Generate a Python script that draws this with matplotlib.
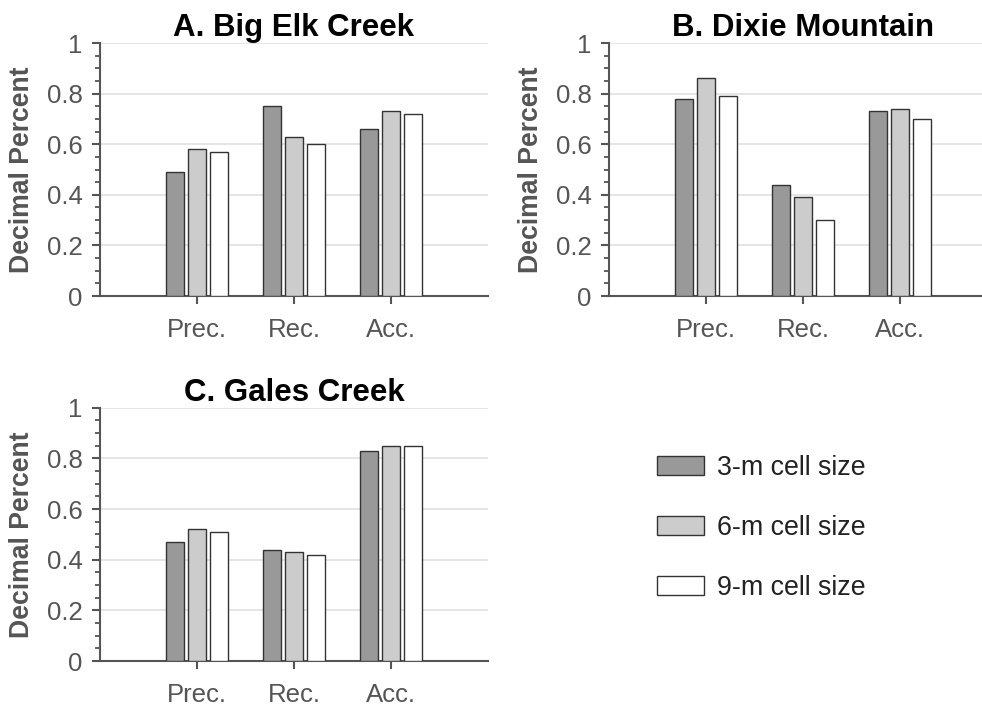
import matplotlib
matplotlib.use("Agg")
import matplotlib.pyplot as plt
import numpy as np
from matplotlib.patches import Patch
from matplotlib.ticker import MultipleLocator

plt.rcParams["font.family"] = ["Liberation Sans", "DejaVu Sans"]

metrics = ["Prec.", "Rec.", "Acc."]
series_labels = ["3-m cell size", "6-m cell size", "9-m cell size"]
series_colors = ["#999999", "#cccccc", "#ffffff"]

big_elk = {
    "3-m cell size": [0.49, 0.75, 0.66],
    "6-m cell size": [0.58, 0.63, 0.73],
    "9-m cell size": [0.57, 0.60, 0.72],
}
dixie = {
    "3-m cell size": [0.78, 0.44, 0.73],
    "6-m cell size": [0.86, 0.39, 0.74],
    "9-m cell size": [0.79, 0.30, 0.70],
}
gales = {
    "3-m cell size": [0.47, 0.44, 0.83],
    "6-m cell size": [0.52, 0.43, 0.85],
    "9-m cell size": [0.51, 0.42, 0.85],
}

AXIS_GREY = "#555555"
EDGE = "#333333"


def draw_panel(ax, data, title):
    x = np.arange(1, len(metrics) + 1)
    step = 0.225
    width = 0.18
    for i, (label, color) in enumerate(zip(series_labels, series_colors)):
        ax.bar(x + (i - 1) * step, data[label], width=width, color=color,
               edgecolor=EDGE, linewidth=1.0, zorder=3)

    ax.set_xlim(0, 4)
    ax.set_ylim(0, 1)
    ax.set_xticks(x)
    ax.set_xticklabels(metrics)
    ax.set_yticks([0, 0.2, 0.4, 0.6, 0.8, 1.0])
    ax.set_yticklabels(["0", "0.2", "0.4", "0.6", "0.8", "1"])
    ax.yaxis.set_minor_locator(MultipleLocator(0.05))

    ax.grid(axis="y", color="#e3e3e3", linewidth=1.3, zorder=0)
    ax.set_axisbelow(True)
    for side in ("top", "right"):
        ax.spines[side].set_visible(False)
    for side in ("left", "bottom"):
        ax.spines[side].set_color(AXIS_GREY)
        ax.spines[side].set_linewidth(1.5)

    ax.tick_params(axis="y", which="major", direction="out", length=5.5,
                   width=1.5, color=AXIS_GREY, labelcolor=AXIS_GREY,
                   labelsize=18.5, pad=7)
    ax.tick_params(axis="y", which="minor", direction="out", length=3.5,
                   width=1.3, color=AXIS_GREY)
    ax.tick_params(axis="x", which="major", direction="out", length=5.5,
                   width=1.5, color=AXIS_GREY, labelcolor=AXIS_GREY,
                   labelsize=18.5, pad=10)

    ax.set_title(title, fontsize=22.5, fontweight="bold", color="black", pad=3)
    ax.set_ylabel("Decimal Percent", fontsize=19.2, fontweight="bold",
                  color=AXIS_GREY)
    ax.yaxis.set_label_coords(-0.168, 0.5)


fig = plt.figure(figsize=(9.82, 7.09), dpi=100)
ax_a = fig.add_axes([0.1018, 0.5825, 0.3951, 0.3568])
ax_b = fig.add_axes([0.6202, 0.5825, 0.3951, 0.3568])
ax_c = fig.add_axes([0.1018, 0.0677, 0.3951, 0.3573])

draw_panel(ax_a, big_elk, "A. Big Elk Creek")
draw_panel(ax_b, dixie, "B. Dixie Mountain")
draw_panel(ax_c, gales, "C. Gales Creek")

handles = [Patch(facecolor=c, edgecolor=EDGE, linewidth=1.0) for c in series_colors]
fig.legend(handles, series_labels, loc="upper left",
           bbox_to_anchor=(657 / 982, 1 - 455 / 709), frameon=False,
           fontsize=19.3, handlelength=1.75, handleheight=0.72,
           handletextpad=0.5, labelspacing=1.27, borderpad=0, borderaxespad=0,
           labelcolor="#222222")

fig.savefig("out.png", dpi=100)
